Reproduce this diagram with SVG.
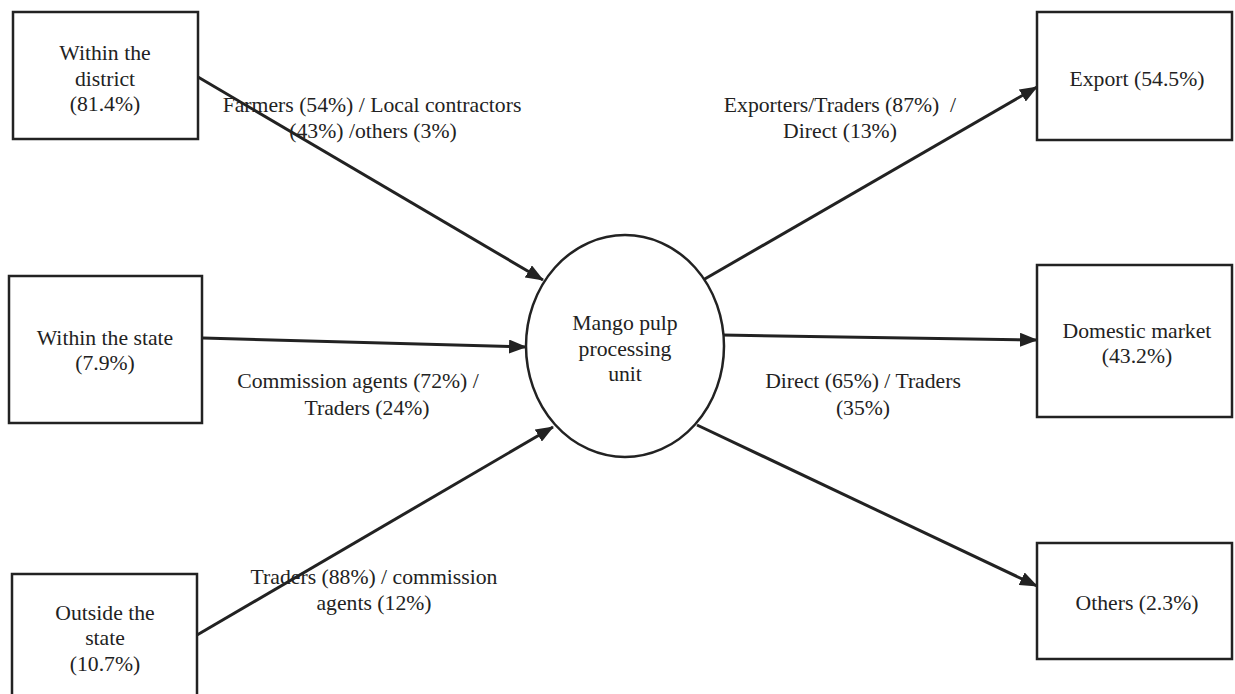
<svg xmlns="http://www.w3.org/2000/svg" width="1235" height="694" viewBox="0 0 1235 694">
<defs>
<style>
.box{fill:#fff;stroke:#222;stroke-width:2.5}
.t{font-family:"Liberation Serif","DejaVu Serif",serif;font-size:21.7px;fill:#222;text-anchor:middle}
.c{stroke:#222;stroke-width:3;fill:none}
</style>
<marker id="ah" markerWidth="18" markerHeight="14" refX="17" refY="7" orient="auto" markerUnits="userSpaceOnUse">
<path d="M0,0 L18,7 L0,14 Z" fill="#222"/>
</marker>
</defs>
<rect width="1235" height="694" fill="#fff"/>
<g id="connectors">
<line class="c" x1="198" y1="77" x2="543" y2="280" marker-end="url(#ah)"/>
<line class="c" x1="203" y1="338" x2="526" y2="347" marker-end="url(#ah)"/>
<line class="c" x1="197" y1="635" x2="553" y2="427" marker-end="url(#ah)"/>
<line class="c" x1="703" y1="280" x2="1037" y2="87" marker-end="url(#ah)"/>
<line class="c" x1="722" y1="335" x2="1037" y2="340" marker-end="url(#ah)"/>
<line class="c" x1="697" y1="425" x2="1037" y2="586" marker-end="url(#ah)"/>
<text class="t" x="372" y="112">Farmers (54%) / Local contractors</text>
<text class="t" x="373" y="138">(43%) /others (3%)</text>
<text class="t" x="840" y="112">Exporters/Traders (87%)&#160; /</text>
<text class="t" x="840" y="138">Direct (13%)</text>
<text class="t" x="358" y="388">Commission agents (72%) /</text>
<text class="t" x="367" y="415">Traders (24%)</text>
<text class="t" x="863" y="388">Direct (65%) / Traders</text>
<text class="t" x="863" y="415">(35%)</text>
<text class="t" x="374" y="584">Traders (88%) / commission</text>
<text class="t" x="374" y="610">agents (12%)</text>
</g>
<g id="within-district">
<rect class="box" x="13" y="12" width="185" height="127"/>
<text class="t" x="105" y="60">Within the</text>
<text class="t" x="105" y="86">district</text>
<text class="t" x="105" y="111">(81.4%)</text>
</g>
<g id="within-state">
<rect class="box" x="9" y="276" width="193" height="147"/>
<text class="t" x="105" y="345">Within the state</text>
<text class="t" x="105" y="370">(7.9%)</text>
</g>
<g id="outside-state">
<rect class="box" x="12" y="574" width="185" height="130"/>
<text class="t" x="105" y="620">Outside the</text>
<text class="t" x="105" y="645">state</text>
<text class="t" x="105" y="671">(10.7%)</text>
</g>
<g id="processing-unit">
<ellipse class="box" cx="625" cy="346" rx="99" ry="111"/>
<text class="t" x="625" y="330">Mango pulp</text>
<text class="t" x="625" y="356">processing</text>
<text class="t" x="625" y="381">unit</text>
</g>
<g id="export">
<rect class="box" x="1037" y="12" width="195" height="128"/>
<text class="t" x="1137" y="86">Export (54.5%)</text>
</g>
<g id="domestic">
<rect class="box" x="1037" y="265" width="195" height="152"/>
<text class="t" x="1137" y="338">Domestic market</text>
<text class="t" x="1137" y="363">(43.2%)</text>
</g>
<g id="others">
<rect class="box" x="1037" y="543" width="195" height="116"/>
<text class="t" x="1137" y="610">Others (2.3%)</text>
</g>
</svg>
